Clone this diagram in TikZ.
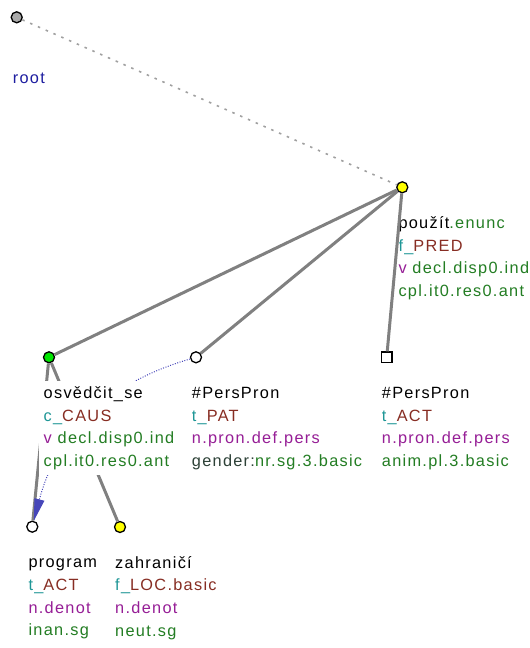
\documentclass[tikz,border=0pt]{standalone}
\usepackage{fontspec}
\setmainfont{Liberation Sans}[LetterSpace=8]
\usetikzlibrary{arrows.meta}
\definecolor{tealc}{RGB}{30,150,150}
\definecolor{brownc}{RGB}{135,45,35}
\definecolor{purplec}{RGB}{150,30,150}
\definecolor{greenc}{RGB}{35,125,35}
\definecolor{bluec}{RGB}{30,30,160}
\definecolor{darkc}{RGB}{45,65,55}
\definecolor{edgec}{RGB}{128,128,128}
\definecolor{rootedgec}{RGB}{160,160,160}
\definecolor{rootfill}{RGB}{170,170,170}
\definecolor{yel}{RGB}{255,255,0}
\definecolor{grn}{RGB}{0,230,0}
\definecolor{corefc}{RGB}{70,70,185}
\begin{document}
\begin{tikzpicture}[x=1pt,y=-1pt,
  tnode/.style={circle, draw=black, line width=1.3pt, minimum size=11pt, inner sep=0pt},
  snode/.style={rectangle, draw=black, line width=1.3pt, minimum size=10.5pt, inner sep=0pt, fill=white},
  edge/.style={draw=edgec, line width=3pt},
  rootedge/.style={draw=rootedgec, line width=1.6pt, dash pattern=on 2.5pt off 6pt},
  coref/.style={draw=corefc, line width=1pt, dash pattern=on 1pt off 1.5pt, -{Triangle[length=22pt,width=10pt]}},
  lbl/.style={anchor=north west, align=left, inner xsep=5pt, inner ysep=2pt, fill=white, font=\fontsize{16.3}{22.7}\selectfont},
  lblplain/.style={lbl, fill=none}
]
\useasboundingbox (0,0) rectangle (530,648);
\node[tnode, fill=rootfill] (root) at (16.7,17.3) {};
\node[tnode, fill=yel] (pou) at (402.3,187.3) {};
\node[tnode, fill=grn] (osv) at (49,357.3) {};
\node[tnode, fill=white] (pat) at (196,357.3) {};
\node[snode] (act) at (386.7,357.3) {};
\node[tnode, fill=white] (prog) at (32.3,526.7) {};
\node[tnode, fill=yel] (zah) at (120,527) {};

\node[lblplain] (poulab) at ([shift={(-9,23.1)}]pou.center)
  {\strut použít\textcolor{greenc}{.enunc}\\
   \strut\textcolor{tealc}{f\_}\textcolor{brownc}{PRED}\\
   \strut\textcolor{purplec}{v}\ \textcolor{greenc}{decl.disp0.ind}\\
   \strut\textcolor{greenc}{cpl.it0.res0.ant}};

\draw[rootedge] (root) -- (pou);
\draw[edge] (pou) -- (osv);
\draw[edge] (pou) -- (pat);
\draw[edge] (pou) -- (act);
\draw[edge] (osv) -- (prog);
\draw[edge] (osv) -- (zah);
\draw[coref] (pat) .. controls (100,385) and (55,440) .. (prog);

\node[lbl, text=bluec] (rootlab) at ([shift={(-9,48.1)}]root.center) {\strut root};
\node[lbl] (osvlab) at ([shift={(-10.5,23.1)}]osv.center)
  {\strut osvědčit\_se\\
   \strut\textcolor{tealc}{c\_}\textcolor{brownc}{CAUS}\\
   \strut\textcolor{purplec}{v}\ \textcolor{greenc}{decl.disp0.ind}\\
   \strut\textcolor{greenc}{cpl.it0.res0.ant}};
\node[lbl] (patlab) at ([shift={(-9.3,23.1)}]pat.center)
  {\strut \#PersPron\\
   \strut\textcolor{tealc}{t\_}\textcolor{brownc}{PAT}\\
   \strut\textcolor{purplec}{n.pron.def.pers}\\
   \strut\textcolor{darkc}{gender:}\textcolor{greenc}{nr.sg.3.basic}};
\node[lbl] (actlab) at ([shift={(-10,23.1)}]act.center)
  {\strut \#PersPron\\
   \strut\textcolor{tealc}{t\_}\textcolor{brownc}{ACT}\\
   \strut\textcolor{purplec}{n.pron.def.pers}\\
   \strut\textcolor{greenc}{anim.pl.3.basic}};
\node[lbl] (proglab) at ([shift={(-9,23.1)}]prog.center)
  {\strut program\\
   \strut\textcolor{tealc}{t\_}\textcolor{brownc}{ACT}\\
   \strut\textcolor{purplec}{n.denot}\\
   \strut\textcolor{greenc}{inan.sg}};
\node[lbl] (zahlab) at ([shift={(-10,23.1)}]zah.center)
  {\strut zahraničí\\
   \strut\textcolor{tealc}{f\_}\textcolor{brownc}{LOC.basic}\\
   \strut\textcolor{purplec}{n.denot}\\
   \strut\textcolor{greenc}{neut.sg}};
\end{tikzpicture}
\end{document}
